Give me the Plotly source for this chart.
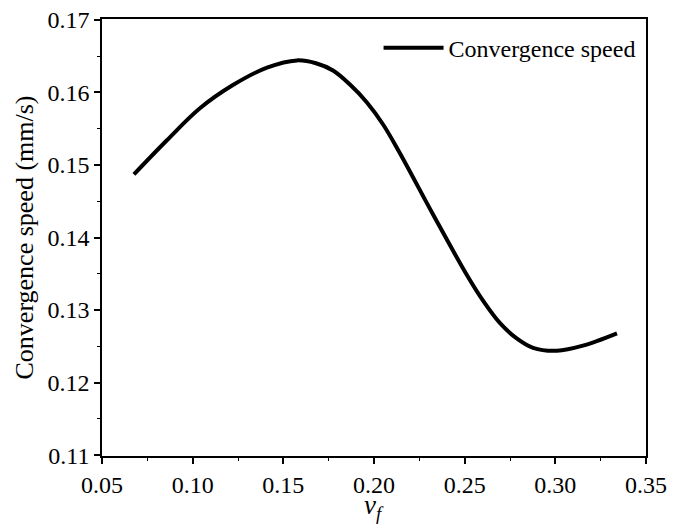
import plotly.graph_objects as go

vf = [0.0676, 0.0858, 0.1040, 0.1222, 0.1410, 0.1575, 0.1680, 0.1774, 0.1866,
      0.1961, 0.2052, 0.2143, 0.2325, 0.2513, 0.2604, 0.2695, 0.2787, 0.2877,
      0.3009, 0.3152, 0.3340]
speed = [0.1487, 0.1534, 0.1578, 0.1610, 0.1634, 0.1644, 0.1640, 0.1630, 0.1611,
         0.1586, 0.1555, 0.1516, 0.1432, 0.1348, 0.1312, 0.1282, 0.1261, 0.1248,
         0.1244, 0.1251, 0.1268]

x_ticks = [0.05, 0.10, 0.15, 0.20, 0.25, 0.30, 0.35]
x_labels = ["0.05", "0.10", "0.15", "0.20", "0.25", "0.30", "0.35"]
y_ticks = [0.11, 0.12, 0.13, 0.14, 0.15, 0.16, 0.17]
y_labels = ["0.11", "0.12", "0.13", "0.14", "0.15", "0.16", "0.17"]
x_title = "<i>v<sub>f</sub></i>"
y_title = "Convergence speed (mm/s)"

FONT = "Liberation Serif"

fig = go.Figure()
fig.add_trace(go.Scatter(
    x=vf, y=speed, mode="lines", name="Convergence speed",
    line=dict(color="black", width=4, shape="spline", smoothing=1.0),
))

# page body has an 8px default margin, so the figure is sized/offset to compensate
fig.update_layout(
    width=681, height=525,
    margin=dict(l=94, r=43, t=11, b=77, autoexpand=False),
    paper_bgcolor="white", plot_bgcolor="white",
    font=dict(family=FONT, color="black", size=24),
    showlegend=True,
    legend=dict(x=0.99, y=0.985, xanchor="right", yanchor="top",
                bgcolor="rgba(0,0,0,0)", borderwidth=0,
                font=dict(family=FONT, size=24), itemwidth=60),
)

fig.add_annotation(
    text=x_title, xref="paper", yref="paper", x=0.5, y=0,
    xanchor="center", yanchor="top", yshift=-32, showarrow=False,
    font=dict(family=FONT, size=27, color="black"),
)

fig.update_xaxes(
    range=[0.05, 0.35], tickvals=x_ticks, ticktext=x_labels,
    showline=True, linecolor="black", linewidth=1.5, mirror=True,
    ticks="outside", ticklen=6, tickwidth=1.5, tickcolor="black",
    minor=dict(ticks="outside", ticklen=3, tickwidth=1.2, tickcolor="black", dtick=0.025, tick0=0.05),
    showgrid=False, zeroline=False, automargin=False, ticklabeloverflow="allow",
    tickfont=dict(family=FONT, size=24),
)
fig.update_yaxes(
    range=[0.1099, 0.1701], tickvals=y_ticks, ticktext=y_labels,
    showline=True, linecolor="black", linewidth=1.5, mirror=True,
    ticks="outside", ticklen=6, tickwidth=1.5, tickcolor="black",
    minor=dict(ticks="outside", ticklen=3, tickwidth=1.2, tickcolor="black", dtick=0.005, tick0=0.11),
    showgrid=False, zeroline=False, automargin=False, ticklabeloverflow="allow",
    tickfont=dict(family=FONT, size=24),
    title=dict(text=y_title, font=dict(family=FONT, size=26), standoff=6),
)

fig.write_html("out.html")
